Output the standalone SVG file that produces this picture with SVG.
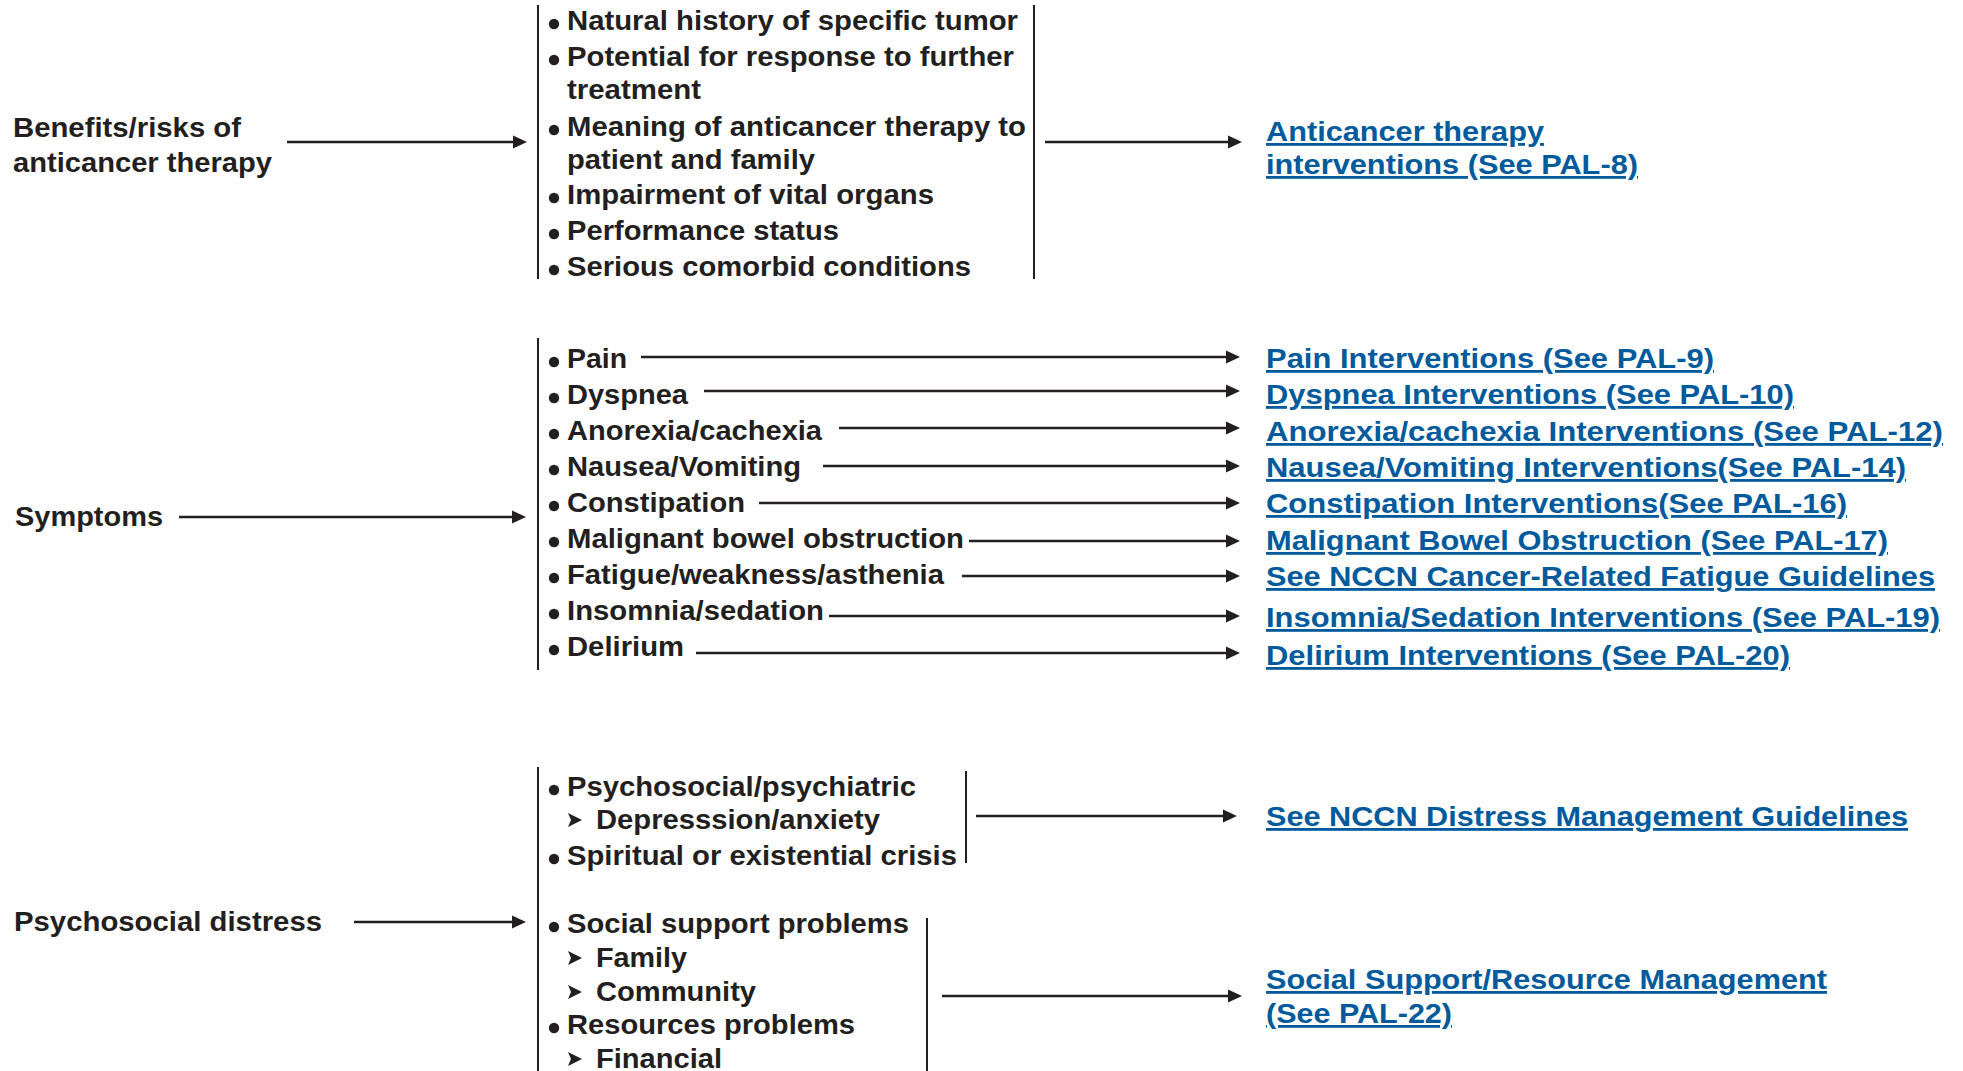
<svg xmlns="http://www.w3.org/2000/svg" width="1963" height="1071" viewBox="0 0 1963 1071">
<style>
text{font-family:"Liberation Sans",Arial,sans-serif;font-weight:bold;font-size:28px;fill:#231f20}
text.lk{fill:#005a9c;text-decoration:underline}
.ln{stroke:#231f20;stroke-width:2.6;fill:none}
.ar{stroke:#231f20;stroke-width:2.6;fill:none;marker-end:url(#ah)}
.br{stroke:#231f20;stroke-width:2;fill:none}
.bu{fill:#231f20}
</style>
<defs>
<marker id="ah" markerUnits="userSpaceOnUse" markerWidth="14" markerHeight="14" viewBox="0 0 14 14" refX="8" refY="7" orient="auto"><path d="M0,0.5 L14,7 L0,13.5 Z" fill="#231f20"/></marker>
<path id="tri" d="M0,-16 L14,-9 L0,-2 L3,-9 Z" fill="#231f20"/>
</defs>
<rect width="1963" height="1071" fill="#fff"/>

<g id="connectors">
<line class="ar" x1="287" y1="142" x2="521" y2="142"/>
<line class="ar" x1="1045" y1="142" x2="1236" y2="142"/>
<line class="ar" x1="179" y1="517" x2="520" y2="517"/>
<line class="ar" x1="641" y1="357" x2="1234" y2="357"/>
<line class="ar" x1="704" y1="391" x2="1234" y2="391"/>
<line class="ar" x1="839" y1="428" x2="1234" y2="428"/>
<line class="ar" x1="823" y1="466" x2="1234" y2="466"/>
<line class="ar" x1="759" y1="503" x2="1234" y2="503"/>
<line class="ar" x1="969" y1="541" x2="1234" y2="541"/>
<line class="ar" x1="962" y1="576" x2="1234" y2="576"/>
<line class="ar" x1="829" y1="616" x2="1234" y2="616"/>
<line class="ar" x1="696" y1="653" x2="1234" y2="653"/>
<line class="ar" x1="354" y1="922" x2="520" y2="922"/>
<line class="ar" x1="976" y1="816" x2="1231" y2="816"/>
<line class="ar" x1="942" y1="996" x2="1236" y2="996"/>
</g>

<g id="benefits">
<text x="13" y="137" textLength="228" lengthAdjust="spacingAndGlyphs">Benefits/risks of</text>
<text x="13" y="172" textLength="259" lengthAdjust="spacingAndGlyphs">anticancer therapy</text>
</g>

<g id="benefits-factors">
<line class="br" x1="538" y1="5" x2="538" y2="279"/>
<line class="br" x1="1034" y1="5" x2="1034" y2="279"/>
<circle class="bu" cx="554" cy="24" r="5.2"/>
<text x="567" y="30" textLength="451" lengthAdjust="spacingAndGlyphs">Natural history of specific tumor</text>
<circle class="bu" cx="554" cy="60" r="5.2"/>
<text x="567" y="66" textLength="447" lengthAdjust="spacingAndGlyphs">Potential for response to further</text>
<text x="567" y="99" textLength="134" lengthAdjust="spacingAndGlyphs">treatment</text>
<circle class="bu" cx="554" cy="130" r="5.2"/>
<text x="567" y="136" textLength="459" lengthAdjust="spacingAndGlyphs">Meaning of anticancer therapy to</text>
<text x="567" y="169" textLength="248" lengthAdjust="spacingAndGlyphs">patient and family</text>
<circle class="bu" cx="554" cy="198" r="5.2"/>
<text x="567" y="204" textLength="367" lengthAdjust="spacingAndGlyphs">Impairment of vital organs</text>
<circle class="bu" cx="554" cy="234" r="5.2"/>
<text x="567" y="240" textLength="272" lengthAdjust="spacingAndGlyphs">Performance status</text>
<circle class="bu" cx="554" cy="270" r="5.2"/>
<text x="567" y="276" textLength="404" lengthAdjust="spacingAndGlyphs">Serious comorbid conditions</text>
</g>

<g id="anticancer-link">
<text class="lk" x="1266" y="141" textLength="278" lengthAdjust="spacingAndGlyphs">Anticancer therapy</text>
<text class="lk" x="1266" y="174" textLength="372" lengthAdjust="spacingAndGlyphs">interventions (See PAL-8)</text>
</g>

<g id="symptoms">
<text x="15" y="526" textLength="148" lengthAdjust="spacingAndGlyphs">Symptoms</text>
</g>

<g id="symptom-list">
<line class="br" x1="538" y1="338" x2="538" y2="670"/>
<circle class="bu" cx="554" cy="362" r="5.2"/>
<text x="567" y="368" textLength="60" lengthAdjust="spacingAndGlyphs">Pain</text>
<circle class="bu" cx="554" cy="398" r="5.2"/>
<text x="567" y="404" textLength="121" lengthAdjust="spacingAndGlyphs">Dyspnea</text>
<circle class="bu" cx="554" cy="434" r="5.2"/>
<text x="567" y="440" textLength="255" lengthAdjust="spacingAndGlyphs">Anorexia/cachexia</text>
<circle class="bu" cx="554" cy="470" r="5.2"/>
<text x="567" y="476" textLength="234" lengthAdjust="spacingAndGlyphs">Nausea/Vomiting</text>
<circle class="bu" cx="554" cy="506" r="5.2"/>
<text x="567" y="512" textLength="178" lengthAdjust="spacingAndGlyphs">Constipation</text>
<circle class="bu" cx="554" cy="542" r="5.2"/>
<text x="567" y="548" textLength="397" lengthAdjust="spacingAndGlyphs">Malignant bowel obstruction</text>
<circle class="bu" cx="554" cy="578" r="5.2"/>
<text x="567" y="584" textLength="377" lengthAdjust="spacingAndGlyphs">Fatigue/weakness/asthenia</text>
<circle class="bu" cx="554" cy="614" r="5.2"/>
<text x="567" y="620" textLength="257" lengthAdjust="spacingAndGlyphs">Insomnia/sedation</text>
<circle class="bu" cx="554" cy="650" r="5.2"/>
<text x="567" y="656" textLength="117" lengthAdjust="spacingAndGlyphs">Delirium</text>
</g>

<g id="symptom-links">
<text class="lk" x="1266" y="368" textLength="448" lengthAdjust="spacingAndGlyphs">Pain Interventions (See PAL-9)</text>
<text class="lk" x="1266" y="404" textLength="528" lengthAdjust="spacingAndGlyphs">Dyspnea Interventions (See PAL-10)</text>
<text class="lk" x="1266" y="441" textLength="677" lengthAdjust="spacingAndGlyphs">Anorexia/cachexia Interventions (See PAL-12)</text>
<text class="lk" x="1266" y="477" textLength="640" lengthAdjust="spacingAndGlyphs">Nausea/Vomiting Interventions(See PAL-14)</text>
<text class="lk" x="1266" y="513" textLength="581" lengthAdjust="spacingAndGlyphs">Constipation Interventions(See PAL-16)</text>
<text class="lk" x="1266" y="550" textLength="622" lengthAdjust="spacingAndGlyphs">Malignant Bowel Obstruction (See PAL-17)</text>
<text class="lk" x="1266" y="586" textLength="669" lengthAdjust="spacingAndGlyphs">See NCCN Cancer-Related Fatigue Guidelines</text>
<text class="lk" x="1266" y="627" textLength="674" lengthAdjust="spacingAndGlyphs">Insomnia/Sedation Interventions (See PAL-19)</text>
<text class="lk" x="1266" y="665" textLength="524" lengthAdjust="spacingAndGlyphs">Delirium Interventions (See PAL-20)</text>
</g>

<g id="psychosocial">
<text x="14" y="931" textLength="308" lengthAdjust="spacingAndGlyphs">Psychosocial distress</text>
</g>

<g id="psychosocial-list">
<line class="br" x1="538" y1="767" x2="538" y2="1071"/>
<line class="br" x1="966" y1="771" x2="966" y2="863"/>
<line class="br" x1="927" y1="918" x2="927" y2="1071"/>
<circle class="bu" cx="554" cy="790" r="5.2"/>
<text x="567" y="796" textLength="349" lengthAdjust="spacingAndGlyphs">Psychosocial/psychiatric</text>
<use href="#tri" x="568" y="829"/>
<text x="596" y="829" textLength="284" lengthAdjust="spacingAndGlyphs">Depresssion/anxiety</text>
<circle class="bu" cx="554" cy="859" r="5.2"/>
<text x="567" y="865" textLength="390" lengthAdjust="spacingAndGlyphs">Spiritual or existential crisis</text>
<circle class="bu" cx="554" cy="927" r="5.2"/>
<text x="567" y="933" textLength="342" lengthAdjust="spacingAndGlyphs">Social support problems</text>
<use href="#tri" x="568" y="967"/>
<text x="596" y="967" textLength="91" lengthAdjust="spacingAndGlyphs">Family</text>
<use href="#tri" x="568" y="1001"/>
<text x="596" y="1001" textLength="160" lengthAdjust="spacingAndGlyphs">Community</text>
<circle class="bu" cx="554" cy="1028" r="5.2"/>
<text x="567" y="1034" textLength="288" lengthAdjust="spacingAndGlyphs">Resources problems</text>
<use href="#tri" x="568" y="1068"/>
<text x="596" y="1068" textLength="126" lengthAdjust="spacingAndGlyphs">Financial</text>
</g>

<g id="distress-link">
<text class="lk" x="1266" y="826" textLength="642" lengthAdjust="spacingAndGlyphs">See NCCN Distress Management Guidelines</text>
</g>

<g id="social-link">
<text class="lk" x="1266" y="989" textLength="561" lengthAdjust="spacingAndGlyphs">Social Support/Resource Management</text>
<text class="lk" x="1266" y="1023" textLength="186" lengthAdjust="spacingAndGlyphs">(See PAL-22)</text>
</g>
</svg>
